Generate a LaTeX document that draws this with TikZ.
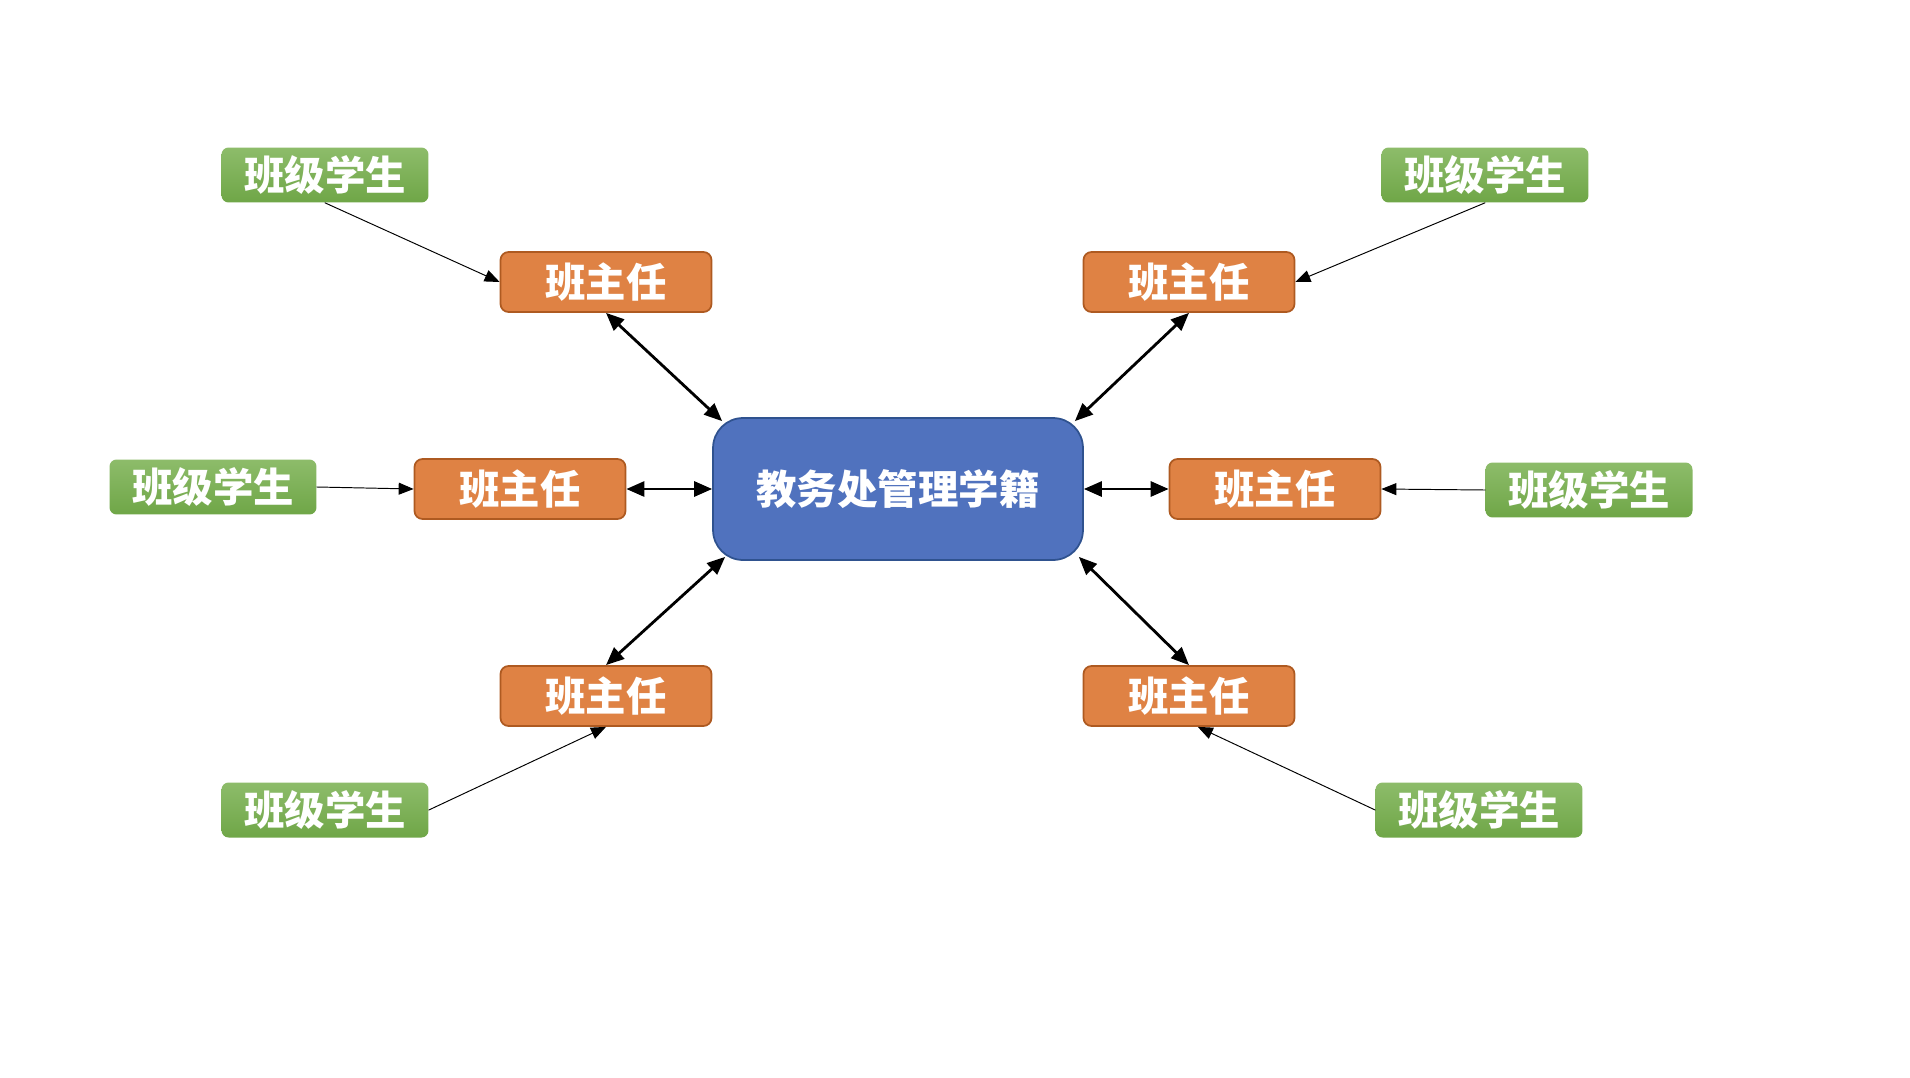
\documentclass[tikz,border=0pt]{standalone}
\usepackage{fontspec}
\newfontfamily\cjk{Noto Sans CJK SC}
\usetikzlibrary{calc, positioning}
\usetikzlibrary{arrows.meta}

\definecolor{bzrfill}{RGB}{223,130,68}
\definecolor{bzrline}{RGB}{174,90,33}
\definecolor{xsTop}{RGB}{141,188,106}
\definecolor{xsBot}{RGB}{111,166,71}
\definecolor{jwcfill}{RGB}{80,114,190}
\definecolor{jwcline}{RGB}{47,82,143}

\tikzset{
  jwcbox/.style={draw=jwcline, line width=1pt, fill=jwcfill, rounded corners=0.6cm,
    minimum width=7.4cm, minimum height=2.84cm, inner sep=0pt,
    text=white, font=\cjk\bfseries\fontsize{23}{23}\selectfont},
  bzrbox/.style={draw=bzrline, line width=1pt, fill=bzrfill, rounded corners=0.16cm,
    minimum width=4.22cm, minimum height=1.2cm, inner sep=0pt,
    text=white, font=\cjk\bfseries\fontsize{23}{23}\selectfont},
  xsbox/.style={top color=xsTop, bottom color=xsBot, rounded corners=0.14cm,
    minimum width=4.14cm, minimum height=1.1cm, inner sep=0pt,
    text=white, font=\cjk\bfseries\fontsize{23}{23}\selectfont},
  twoway/.style={line width=1.6pt, {Triangle[length=3.6mm,width=3mm]}-{Triangle[length=3.6mm,width=3mm]}},
  oneway/.style={line width=0.55pt, -{Triangle[length=3mm,width=2.4mm]}}
}

\begin{document}
\begin{tikzpicture}[x=0.02cm,y=-0.02cm,line cap=round,line join=round]
\path[use as bounding box] (0,0) rectangle (1910,1078);

% centre
\node[jwcbox] (M) at (898,489) {教务处管理学籍};

% 班主任
\node[bzrbox] (T1) at (606,282) {班主任};
\node[bzrbox] (T2) at (1189,282) {班主任};
\node[bzrbox] (T3) at (520,489) {班主任};
\node[bzrbox] (T4) at (1275,489) {班主任};
\node[bzrbox] (T5) at (606,696) {班主任};
\node[bzrbox] (T6) at (1189,696) {班主任};

% 班级学生
\node[xsbox] (S1) at (325,175) {班级学生};
\node[xsbox] (S2) at (1485,175) {班级学生};
\node[xsbox] (S3) at (213,487) {班级学生};
\node[xsbox] (S4) at (1589,490) {班级学生};
\node[xsbox] (S5) at (325,810) {班级学生};
\node[xsbox] (S6) at (1479,810) {班级学生};

\draw[twoway] (T1.south) -- ([shift={(10,4)}]M.north west);
\draw[twoway] (T2.south) -- ([shift={(-9,4)}]M.north east);
\draw[twoway] (T3.east) -- (M.west);
\draw[twoway] (T4.west) -- (M.east);
\draw[twoway] (T5.north) -- ([shift={(13,-4)}]M.south west);
\draw[twoway] (T6.north) -- ([shift={(-5,-4)}]M.south east);

\draw[oneway] (S1.south) -- (T1.west);
\draw[oneway] (S2.south) -- (T2.east);
\draw[oneway] (S3.east) -- (T3.west);
\draw[oneway] (S4.west) -- (T4.east);
\draw[oneway] (S5.east) -- (T5.south);
\draw[oneway] (S6.west) -- ([xshift=5]T6.south);
\end{tikzpicture}
\end{document}
